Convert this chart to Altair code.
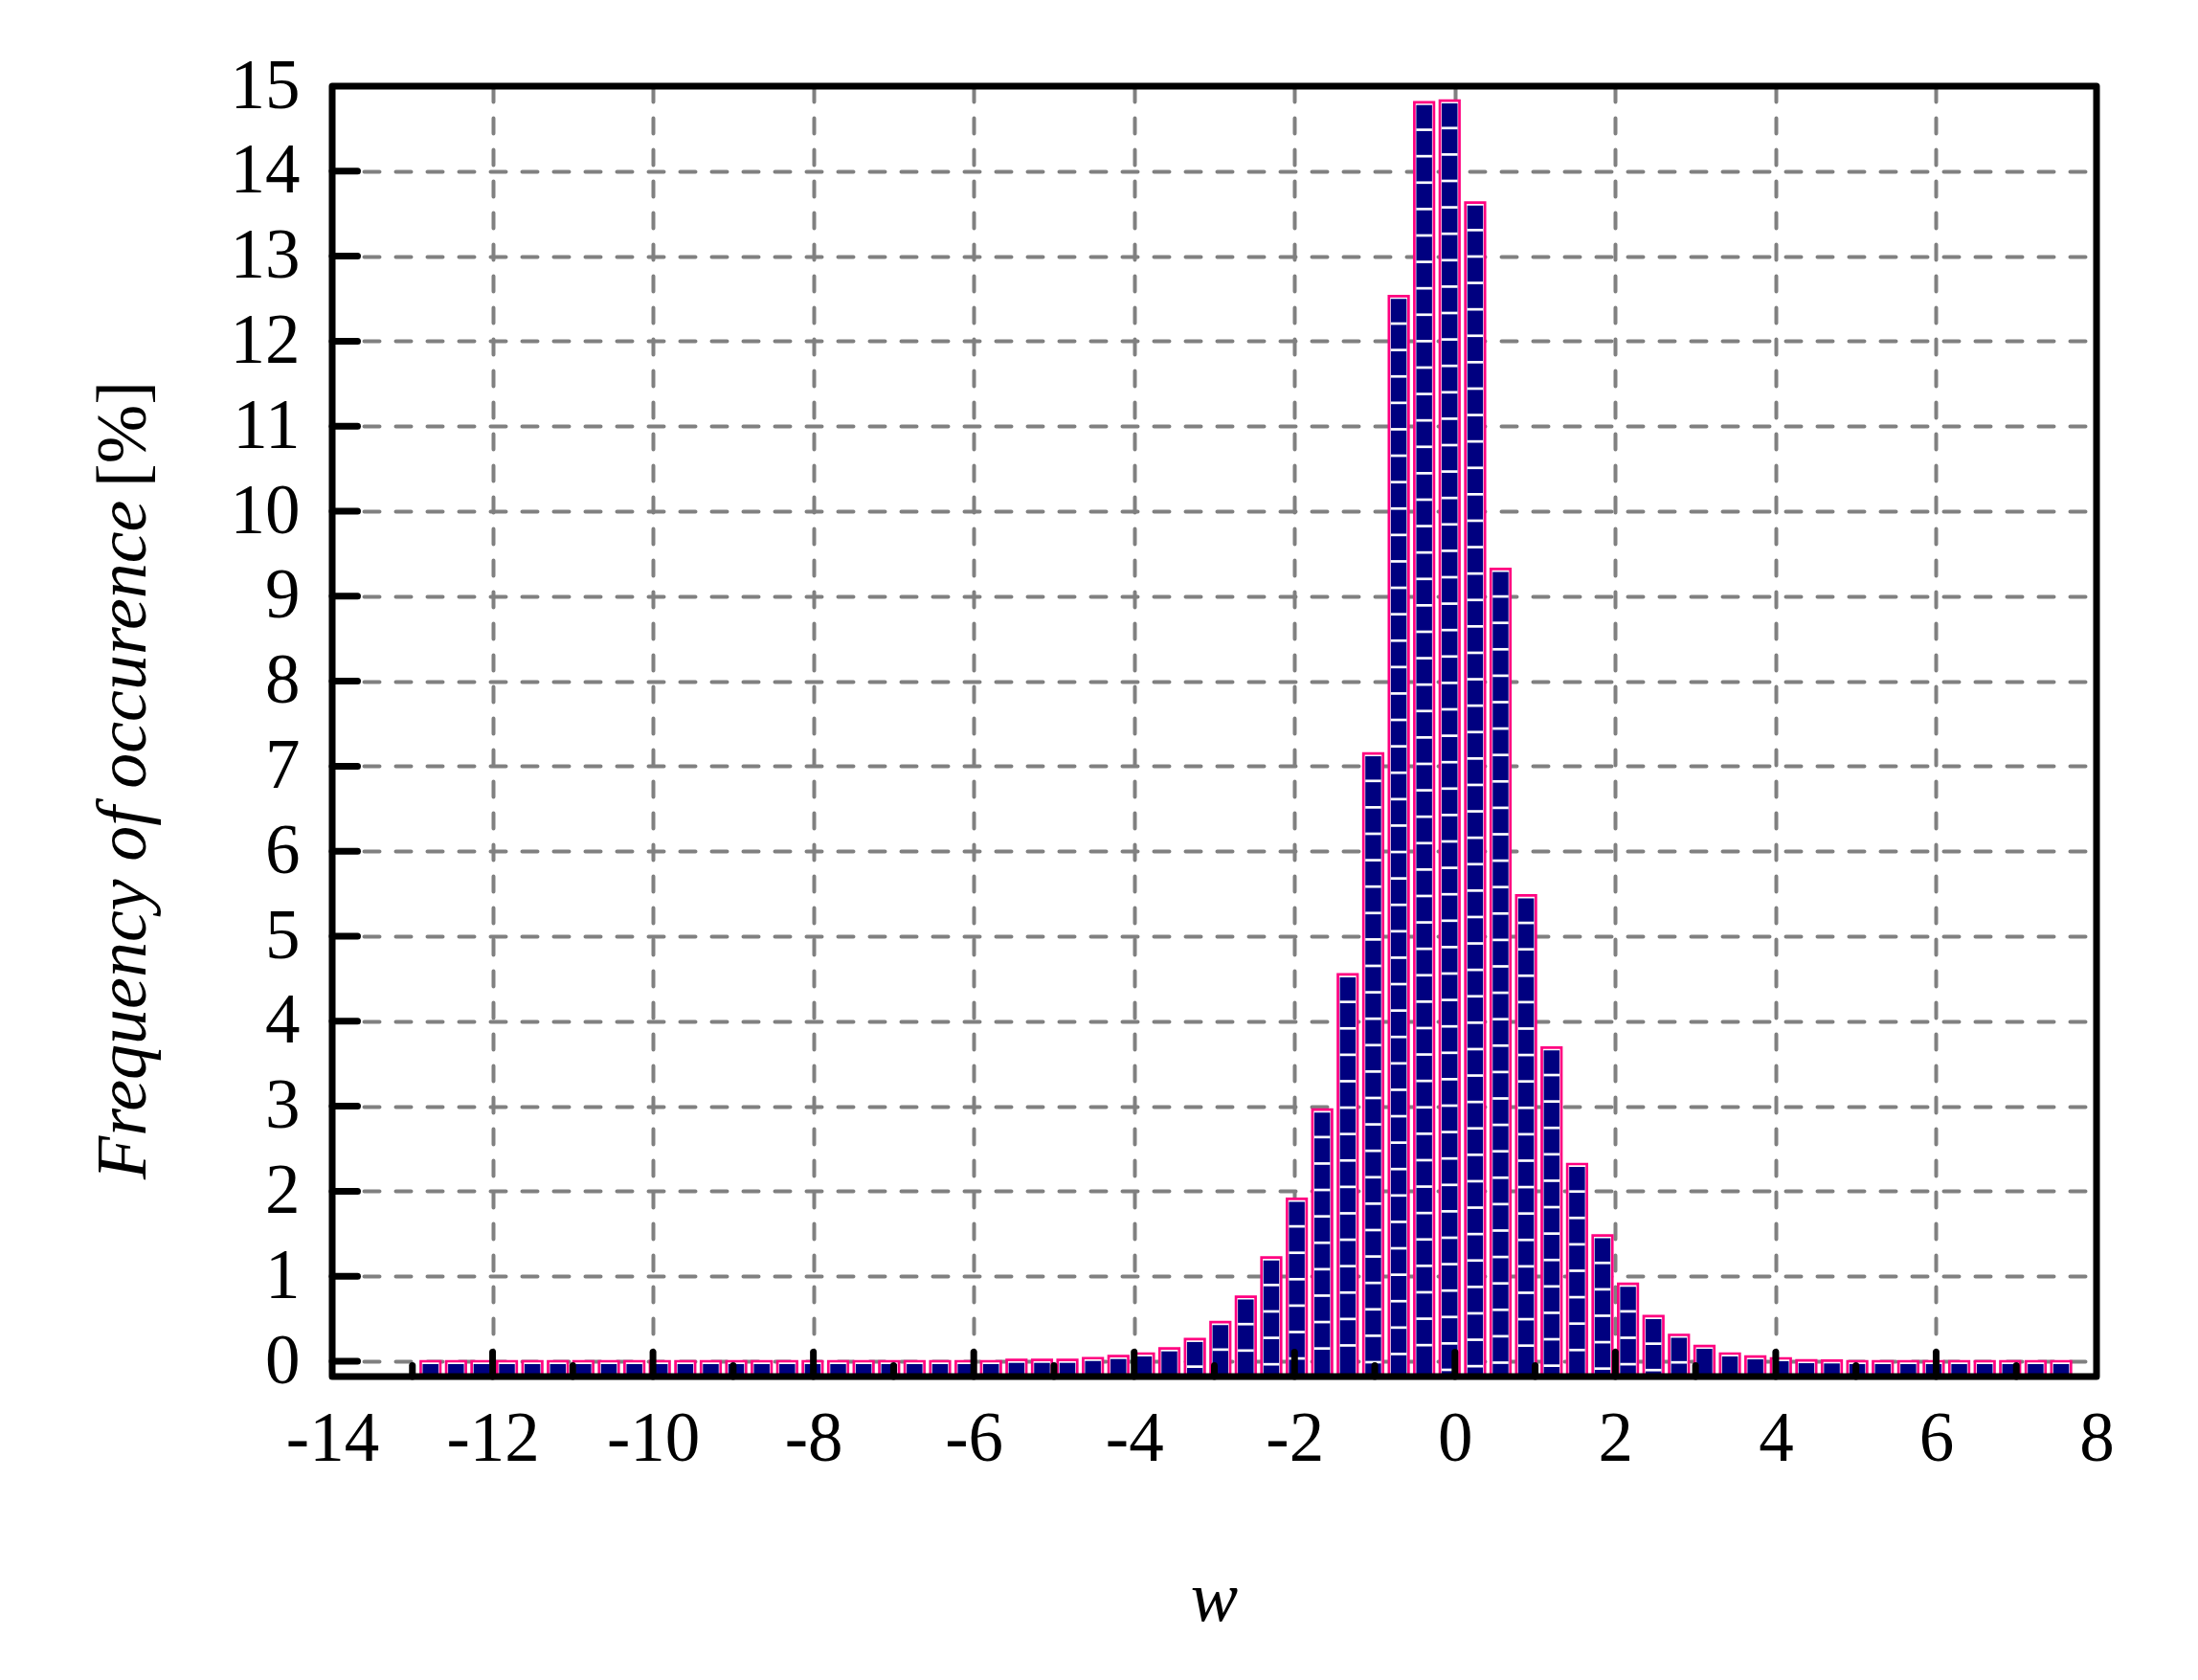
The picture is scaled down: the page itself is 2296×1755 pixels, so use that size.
import altair as alt
import pandas as pd

# ---------------- data ----------------
bin_centers = [
    -12.774, -12.456, -12.139, -11.821, -11.503, -11.186, -10.868, -10.550,
    -10.232, -9.915, -9.597, -9.279, -8.962, -8.644, -8.326, -8.009,
    -7.691, -7.373, -7.055, -6.738, -6.420, -6.102, -5.785, -5.467,
    -5.149, -4.832, -4.514, -4.196, -3.878, -3.561, -3.243, -2.925,
    -2.608, -2.290, -1.972, -1.655, -1.337, -1.019, -0.701, -0.384,
    -0.066, 0.252, 0.569, 0.887, 1.205, 1.523, 1.840, 2.158,
    2.476, 2.793, 3.111, 3.429, 3.746, 4.064, 4.382, 4.700,
    5.017, 5.335, 5.653, 5.970, 6.288, 6.606, 6.923, 7.241, 7.559,
]
frequency = [
    0, 0, 0, 0, 0, 0, 0, 0,
    0, 0, 0, 0, 0, 0, 0, 0,
    0, 0, 0, 0, 0, 0, 0, 0.015,
    0.015, 0.015, 0.037, 0.06, 0.09, 0.15, 0.26, 0.46,
    0.76, 1.22, 1.91, 2.96, 4.55, 7.15, 12.53, 14.81,
    14.83, 13.63, 9.32, 5.48, 3.69, 2.32, 1.48, 0.91,
    0.53, 0.31, 0.18, 0.09, 0.056, 0.034, 0.011, 0.008,
    0, 0, 0, 0, 0, 0, 0, 0, 0,
]
x_tick_labels = [-14, -12, -10, -8, -6, -4, -2, 0, 2, 4, 6, 8]
x_major_ticks = [-12, -10, -8, -6, -4, -2, 0, 2, 4, 6]
x_minor_ticks = [-13, -11, -9, -7, -5, -3, -1, 1, 3, 5, 7]
y_tick_labels = list(range(0, 16))
y_major_ticks = list(range(0, 15))

x_title = "w"
y_title = "Frequency of occurence"
y_unit = "[%]"

# ---------------- layout / style ----------------
W, H = 1843, 1348
YMIN, YMAX = -0.18, 15
BAR_BASE = -0.158
PX_PER_UNIT = H / (YMAX - YMIN)
FONT = "Liberation Serif"
NAVY = "#000080"
PINK = "#FF0080"

bars = pd.DataFrame({"x": bin_centers, "y": frequency})

# white hatch lines inside each bar (pattern every ~27.6 px from the bar top)
rows = []
for c, v in zip(bin_centers, frequency):
    yy = v - 28.7 / PX_PER_UNIT
    while yy > -0.12:
        rows.append({"x": c, "y": yy})
        yy -= 27.6 / PX_PER_UNIT
lines = pd.DataFrame(rows)

xs = alt.Scale(domain=[-14, 8], nice=False, zero=False, padding=0)
ys = alt.Scale(domain=[YMIN, YMAX], nice=False, zero=False, padding=0)

grid_kw = dict(grid=True, gridColor="#808080", gridWidth=4, gridDash=[16, 17], gridCap="round")
xaxis = alt.Axis(values=x_tick_labels, title=None, ticks=False, tickSize=0, domain=False,
                 labelFont=FONT, labelFontSize=73, labelColor="black", labelPadding=87,
                 labelBaseline="alphabetic", labelFlush=False, labelOverlap=False,
                 labelExpr="'' + datum.value", **grid_kw)
yaxis = alt.Axis(values=y_tick_labels, title=None, ticks=False, tickSize=0, domain=False,
                 labelFont=FONT, labelFontSize=73, labelColor="black", labelPadding=34,
                 labelFlush=False, labelOverlap=False,
                 labelExpr="'' + datum.value", **grid_kw)

X = alt.X("x:Q", scale=xs, axis=xaxis)
Y = alt.Y("y:Q", scale=ys, axis=yaxis)

outer = alt.Chart(bars).mark_bar(size=20.5, fill="white", stroke=PINK, strokeWidth=2.7).encode(
    x=X, y=Y, y2=alt.datum(BAR_BASE))
inner = alt.Chart(bars).mark_bar(size=16.5, color=NAVY, yOffset=3).encode(
    x=X, y=Y, y2=alt.datum(BAR_BASE))
hatch = alt.Chart(lines).mark_tick(orient="horizontal", size=16.5, thickness=2.7,
                                   color="white", opacity=1).encode(x=X, y=Y)

major = alt.Chart(pd.DataFrame({"x": x_major_ticks})).mark_rule(
    color="black", strokeWidth=7, strokeCap="round").encode(
    x=X, y=alt.value(H), y2=alt.value(H - 25.5))
minor = alt.Chart(pd.DataFrame({"x": x_minor_ticks})).mark_rule(
    color="black", strokeWidth=7, strokeCap="round").encode(
    x=X, y=alt.value(H), y2=alt.value(H - 11.5))
yticks = alt.Chart(pd.DataFrame({"y": y_major_ticks})).mark_rule(
    color="black", strokeWidth=7, strokeCap="round").encode(
    y=Y, x=alt.value(0), x2=alt.value(26.5))

one = pd.DataFrame({"a": [0]})
frame = alt.Chart(one).mark_rect(fill="white", fillOpacity=0, stroke="black",
                                 strokeWidth=7, strokeJoin="round").encode(
    x=alt.value(0), x2=alt.value(W), y=alt.value(0), y2=alt.value(H))

ytitle1 = alt.Chart(one).mark_text(text=y_title, font=FONT, fontSize=74, fontStyle="italic",
                                   angle=270, align="left", baseline="alphabetic",
                                   color="black").encode(x=alt.value(-195), y=alt.value(1142))
ytitle2 = alt.Chart(one).mark_text(text=y_unit, font=FONT, fontSize=74,
                                   angle=270, align="right", baseline="alphabetic",
                                   color="black").encode(x=alt.value(-195), y=alt.value(308))
xtitle = alt.Chart(one).mark_text(text=x_title, font=FONT, fontSize=74, fontStyle="italic",
                                  align="center", baseline="alphabetic",
                                  color="black").encode(x=alt.value(W / 2), y=alt.value(1603))

chart = alt.layer(outer, inner, hatch, major, minor, yticks, frame, ytitle1, ytitle2, xtitle).properties(
    width=W, height=H,
    autosize=alt.AutoSizeParams(type="none"),
    padding={"left": 339, "top": 82, "right": 80, "bottom": 290},
    background="white",
).configure_view(stroke=None)

chart.save("out.html", embed_options={"renderer": "svg", "actions": False})
